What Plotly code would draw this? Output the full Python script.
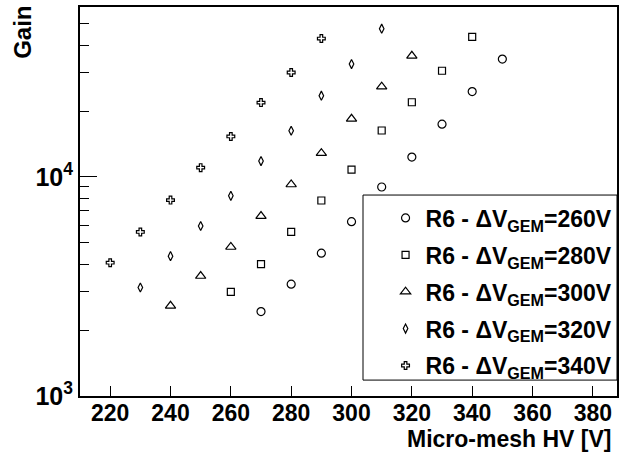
import plotly.graph_objects as go

# Micro-mesh HV [V] and gain per GEM voltage
hv_260 = [270, 280, 290, 300, 310, 320, 330, 340, 350]
gain_260 = [2430, 3240, 4490, 6250, 9000, 12330, 17420, 24530, 34530]

hv_280 = [260, 270, 280, 290, 300, 310, 320, 330, 340]
gain_280 = [2990, 4000, 5610, 7810, 10800, 16300, 21930, 30550, 43600]

hv_300 = [240, 250, 260, 270, 280, 290, 300, 310, 320]
gain_300 = [2580, 3530, 4790, 6630, 9240, 12850, 18430, 25830, 35740]

hv_320 = [230, 240, 250, 260, 270, 280, 290, 300, 310]
gain_320 = [3130, 4350, 5970, 8200, 11820, 16250, 23500, 32770, 47540]

hv_340 = [220, 230, 240, 250, 260, 270, 280, 290]
gain_340 = [4060, 5610, 7840, 11030, 15310, 21850, 29990, 42850]

labels = ["260", "280", "300", "320", "340"]
x_ticks = [220, 240, 260, 280, 300, 320, 340, 360, 380]
y_major = [1000, 10000]
y_major_text = ["10<sup>3</sup>", "10<sup>4</sup>"]
y_minor = [2000, 3000, 4000, 5000, 6000, 7000, 8000, 9000,
           20000, 30000, 40000, 50000]

series = [
    (hv_260, gain_260, "circle-open", 8),
    (hv_280, gain_280, "square-open", 7),
    (hv_300, gain_300, "triangle-up-open", 9),
    (hv_320, gain_320, "diamond-tall-open", 6.5),
    (hv_340, gain_340, "cross-open", 6.5),
]

FONT = "Liberation Sans"

fig = go.Figure()
for i, ((xs, ys, sym, sz), lab) in enumerate(zip(series, labels)):
    fig.add_trace(go.Scatter(
        x=xs, y=ys, mode="markers",
        name="R6 - ΔV<sub>GEM</sub>=" + lab + "V",
        legendgroup="g" + str(i),
        marker=dict(symbol=sym, size=sz, color="black",
                    line=dict(color="black", width=1.2)),
    ))

fig.update_layout(
    width=626, height=452,
    margin=dict(l=80, r=9, t=5, b=56),
    paper_bgcolor="white", plot_bgcolor="white",
    font=dict(family=FONT, size=23, color="black", weight="bold"),
    showlegend=True,
    legend=dict(
        x=0.569, y=0.513, xanchor="left", yanchor="top",
        bgcolor="rgba(0,0,0,0)", borderwidth=0,
        font=dict(family=FONT, size=23, color="black", weight="bold"),
        tracegroupgap=4, itemsizing="trace",
    ),
    xaxis=dict(
        range=[210, 388], showgrid=False, zeroline=False,
        showline=True, linecolor="black", linewidth=2, mirror=True,
        ticks="inside", ticklen=10, tickwidth=1, tickcolor="black",
        tickvals=x_ticks, ticklabelstandoff=-5,
        tickfont=dict(family=FONT, size=23, color="black", weight="bold"),
    ),
    yaxis=dict(
        type="log", range=[3, 4.776], showgrid=False, zeroline=False,
        showline=True, linecolor="black", linewidth=2, mirror=True,
        ticks="inside", ticklen=17, tickwidth=1, tickcolor="black",
        tickvals=y_major, ticktext=y_major_text,
        tickfont=dict(family=FONT, size=25, color="black", weight="bold"),
        minor=dict(tickvals=y_minor, ticks="inside", ticklen=9,
                   tickwidth=1, tickcolor="black"),
    ),
    shapes=[dict(type="rect", xref="paper", yref="paper",
                 x0=(363 - 80) / 537, x1=1.0,
                 y0=(396 - 380) / 391, y1=(396 - 194) / 391,
                 line=dict(color="black", width=1), fillcolor="rgba(0,0,0,0)")],
    annotations=[
        dict(text="Micro-mesh HV [V]", xref="paper", yref="paper",
             x=(613 - 80) / 537, y=(396 - 439) / 391,
             xanchor="right", yanchor="middle", showarrow=False,
             font=dict(family=FONT, size=23, color="black", weight="bold")),
        dict(text="Gain", xref="paper", yref="paper",
             x=(23 - 80) / 537, y=(396 - 31) / 391, textangle=-90,
             xanchor="center", yanchor="middle", showarrow=False,
             font=dict(family=FONT, size=24, color="black", weight="bold")),
    ],
)

fig.write_html("out.html", config={"displayModeBar": False},
               post_script="document.body.style.margin='0';document.body.style.overflow='hidden';")
